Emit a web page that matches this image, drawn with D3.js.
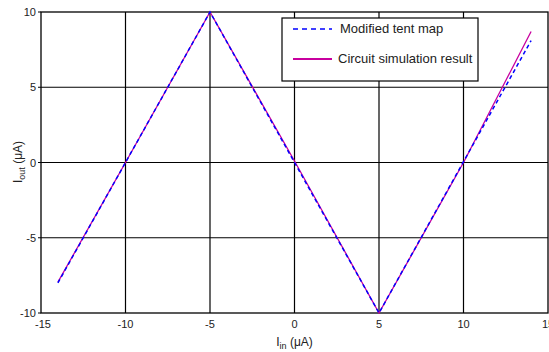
<!DOCTYPE html>
<html>
<head>
<meta charset="utf-8">
<script src="https://cdn.jsdelivr.net/npm/d3@7"></script>
<style>
  body { margin: 0; background: #fff; }
  svg { display: block; font-family: "Liberation Sans", Arial, sans-serif; }
</style>
</head>
<body>
<svg id="chart" width="549" height="352"></svg>
<script>
'use strict';

var xTicks = [-15, -10, -5, 0, 5, 10, 15];
var yTicks = [-10, -5, 0, 5, 10];

// modified tent map (dashed blue)
var tentX = [-14, -5, 5, 14];
var tentY = [-8, 10, -10, 8.1];

// circuit simulation (solid magenta)
var circuitX = [-14, -10, -5, 0, 5, 10, 14];
var circuitY = [-7.95, 0, 10, 0.1, -10, 0, 8.7];

var legendItems = ['Modified tent map', 'Circuit simulation result'];

var margin = { left: 41, right: 1, top: 12, bottom: 39 };
var width = 549, height = 352;

var $svg = d3.select('#chart');
var xScale = d3.scaleLinear().domain([-15, 15]).range([margin.left, width - margin.right]);
var yScale = d3.scaleLinear().domain([-10, 10]).range([height - margin.bottom, margin.top]);

// grid
$svg.selectAll('line.vgrid')
  .data(xTicks.slice(1, -1))
  .enter()
  .append('line')
  .attr('class', 'vgrid')
  .attr('x1', function(d) { return xScale(d); })
  .attr('x2', function(d) { return xScale(d); })
  .attr('y1', yScale(10))
  .attr('y2', yScale(-10))
  .attr('stroke', '#000')
  .attr('stroke-width', 1.2);

$svg.selectAll('line.hgrid')
  .data(yTicks.slice(1, -1))
  .enter()
  .append('line')
  .attr('class', 'hgrid')
  .attr('x1', xScale(-15) - 3)
  .attr('x2', xScale(15))
  .attr('y1', function(d) { return yScale(d); })
  .attr('y2', function(d) { return yScale(d); })
  .attr('stroke', '#000')
  .attr('stroke-width', 1.2);

// frame
$svg.append('rect')
  .attr('x', xScale(-15))
  .attr('y', yScale(10))
  .attr('width', xScale(15) - xScale(-15))
  .attr('height', yScale(-10) - yScale(10))
  .attr('fill', 'none')
  .attr('stroke', '#000')
  .attr('stroke-width', 1.3);

$svg.append('line')
  .attr('x1', xScale(-15) - 3).attr('x2', xScale(-15))
  .attr('y1', yScale(10)).attr('y2', yScale(10))
  .attr('stroke', '#000');
$svg.append('line')
  .attr('x1', xScale(-15) - 3).attr('x2', xScale(-15))
  .attr('y1', yScale(-10)).attr('y2', yScale(-10))
  .attr('stroke', '#000');

// tick labels
$svg.selectAll('text.ytick')
  .data(yTicks)
  .enter()
  .append('text')
  .attr('class', 'ytick')
  .attr('x', xScale(-15) - 5)
  .attr('y', function(d) { return yScale(d) + 4; })
  .attr('text-anchor', 'end')
  .attr('font-size', 11)
  .attr('fill', '#222')
  .text(function(d) { return d; });

$svg.selectAll('text.xtick')
  .data(xTicks)
  .enter()
  .append('text')
  .attr('class', 'xtick')
  .attr('x', function(d) { return xScale(d) + (d === -15 ? 2 : 0); })
  .attr('y', yScale(-10) + 15)
  .attr('text-anchor', 'middle')
  .attr('font-size', 11)
  .attr('fill', '#222')
  .text(function(d) { return d; });

// axis titles
var xTitle = $svg.append('text')
  .attr('x', xScale(0))
  .attr('y', 346)
  .attr('text-anchor', 'middle')
  .attr('font-size', 12)
  .attr('fill', '#222');
xTitle.append('tspan').text('I');
xTitle.append('tspan').attr('font-size', 9).attr('dy', 3).text('in');
xTitle.append('tspan').attr('dy', -3).text(' (μA)');

var yTitle = $svg.append('text')
  .attr('transform', 'translate(22,' + 162 + ') rotate(-90)')
  .attr('text-anchor', 'middle')
  .attr('font-size', 12)
  .attr('fill', '#222');
yTitle.append('tspan').text('I');
yTitle.append('tspan').attr('font-size', 9).attr('dy', 3).text('out');
yTitle.append('tspan').attr('dy', -3).text(' (μA)');

// series
var line = d3.line()
  .x(function(d) { return xScale(d[0]); })
  .y(function(d) { return yScale(d[1]); });

$svg.append('path')
  .datum(d3.zip(circuitX, circuitY))
  .attr('d', line)
  .attr('fill', 'none')
  .attr('stroke', '#c8009e')
  .attr('stroke-width', 1.3);

$svg.append('path')
  .datum(d3.zip(tentX, tentY))
  .attr('d', line)
  .attr('fill', 'none')
  .attr('stroke', '#0000ff')
  .attr('stroke-width', 1.5)
  .attr('stroke-dasharray', '4,3');

// legend
var legend = $svg.append('g').attr('transform', 'translate(282,18)');
legend.append('rect')
  .attr('width', 196)
  .attr('height', 63)
  .attr('fill', '#fff')
  .attr('stroke', '#000')
  .attr('stroke-width', 1.2);

legend.selectAll('line.key')
  .data(legendItems)
  .enter()
  .append('line')
  .attr('class', 'key')
  .attr('x1', 11)
  .attr('x2', 50)
  .attr('y1', function(d, i) { return 11 + i * 30; })
  .attr('y2', function(d, i) { return 11 + i * 30; })
  .attr('stroke', function(d, i) { return i === 0 ? '#0000ff' : '#c8009e'; })
  .attr('stroke-width', function(d, i) { return i === 0 ? 1.5 : 2; })
  .attr('stroke-dasharray', function(d, i) { return i === 0 ? '5,4' : null; });

legend.selectAll('text.key')
  .data(legendItems)
  .enter()
  .append('text')
  .attr('class', 'key')
  .attr('x', function(d, i) { return i === 0 ? 58 : 56; })
  .attr('y', function(d, i) { return 15 + i * 30; })
  .attr('font-size', 13)
  .attr('fill', '#222')
  .text(function(d) { return d; });
</script>
</body>
</html>
